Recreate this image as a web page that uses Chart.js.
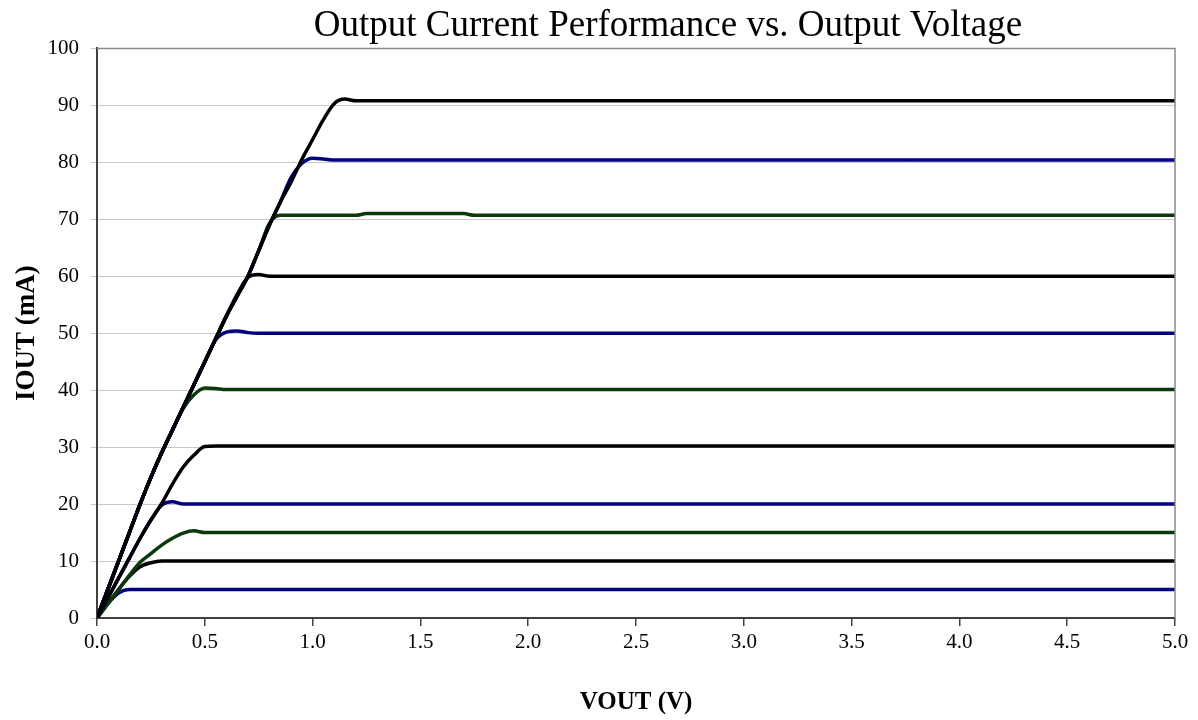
<!DOCTYPE html>
<html>
<head>
<meta charset="utf-8">
<script src="https://cdn.jsdelivr.net/npm/chart.js@4"></script>
<style>
  html, body { margin: 0; padding: 0; background: #fff; }
  #wrap { width: 1198px; height: 720px; }
</style>
</head>
<body>
<div id="wrap"><canvas id="myChart" width="1198" height="720"></canvas></div>
<script>
// output voltage (V)
const vout = [0, 0.05, 0.1, 0.15, 0.2, 0.25, 0.3, 0.35, 0.4, 0.45, 0.5, 0.55, 0.6, 0.65, 0.7, 0.75, 0.8, 0.85, 0.9, 0.95,
    1.0, 1.05, 1.1, 1.15, 1.2, 1.25, 1.5, 1.7, 1.75, 2.0, 2.5, 3.0, 3.5, 4.0, 4.5, 5.0];

// output current (mA) per setting
const i90 = [0, 5, 10, 15, 20, 24.7, 29, 33, 37, 41, 45, 49, 53, 56.5, 60, 64.5, 69, 73, 76.5, 80.5,
    84, 87.5, 90.3, 91.1, 90.8, 90.8, 90.8, 90.8, 90.8, 90.8, 90.8, 90.8, 90.8, 90.8, 90.8, 90.8];
const i80 = [0, 5, 10, 15, 20, 24.7, 29, 33, 37, 41, 45, 49, 53, 56.5, 60, 64.5, 69, 73, 77.3, 79.8,
    80.7, 80.6, 80.4, 80.4, 80.4, 80.4, 80.4, 80.4, 80.4, 80.4, 80.4, 80.4, 80.4, 80.4, 80.4, 80.4];
const i70 = [0, 5, 10, 15, 20, 24.7, 29, 33, 37, 41, 45, 49, 53, 56.5, 60, 64.5, 69.3, 70.7, 70.7, 70.7,
    70.7, 70.7, 70.7, 70.7, 70.7, 71, 71, 71, 70.7, 70.7, 70.7, 70.7, 70.7, 70.7, 70.7, 70.7];
const i60 = [0, 5, 10, 15, 20, 24.7, 29, 33, 37, 41, 45, 49, 53, 56.8, 59.8, 60.3, 60, 60, 60, 60,
    60, 60, 60, 60, 60, 60, 60, 60, 60, 60, 60, 60, 60, 60, 60, 60];
const i50 = [0, 5, 10, 15, 20, 24.7, 29, 33, 37, 41, 45, 48.8, 50.2, 50.4, 50.1, 50, 50, 50, 50, 50,
    50, 50, 50, 50, 50, 50, 50, 50, 50, 50, 50, 50, 50, 50, 50, 50];
const i40 = [0, 5, 10, 15, 20, 24.7, 29, 33, 36.8, 39.2, 40.4, 40.3, 40.1, 40.1, 40.1, 40.1, 40.1, 40.1, 40.1, 40.1,
    40.1, 40.1, 40.1, 40.1, 40.1, 40.1, 40.1, 40.1, 40.1, 40.1, 40.1, 40.1, 40.1, 40.1, 40.1, 40.1];
const i30 = [0, 3.5, 7, 10.5, 14, 17.2, 20.1, 23.5, 26.5, 28.6, 30.1, 30.2, 30.2, 30.2, 30.2, 30.2, 30.2, 30.2, 30.2, 30.2,
    30.2, 30.2, 30.2, 30.2, 30.2, 30.2, 30.2, 30.2, 30.2, 30.2, 30.2, 30.2, 30.2, 30.2, 30.2, 30.2];
const i20 = [0, 3.5, 7, 10.5, 14, 17.2, 19.8, 20.4, 20, 20, 20, 20, 20, 20, 20, 20, 20, 20, 20, 20,
    20, 20, 20, 20, 20, 20, 20, 20, 20, 20, 20, 20, 20, 20, 20, 20];
const i15 = [0, 2.5, 5, 7.5, 9.8, 11.3, 12.8, 14, 14.9, 15.3, 15, 15, 15, 15, 15, 15, 15, 15, 15, 15,
    15, 15, 15, 15, 15, 15, 15, 15, 15, 15, 15, 15, 15, 15, 15, 15];
const i10 = [0, 2.5, 5, 7.3, 9, 9.7, 10, 10, 10, 10, 10, 10, 10, 10, 10, 10, 10, 10, 10, 10,
    10, 10, 10, 10, 10, 10, 10, 10, 10, 10, 10, 10, 10, 10, 10, 10];
const i5 = [0, 2.5, 4.4, 5, 5, 5, 5, 5, 5, 5, 5, 5, 5, 5, 5, 5, 5, 5, 5, 5,
    5, 5, 5, 5, 5, 5, 5, 5, 5, 5, 5, 5, 5, 5, 5, 5];

const xTicks = [0, 0.5, 1.0, 1.5, 2.0, 2.5, 3.0, 3.5, 4.0, 4.5, 5.0];

const BLACK = "#000000";
const BLUE = "#000080";
const GREEN = "#0a3a0a";

// first in the list is drawn on top
const series = [
    { label: "90 mA", data: i90, color: BLACK },
    { label: "80 mA", data: i80, color: BLUE },
    { label: "70 mA", data: i70, color: GREEN },
    { label: "60 mA", data: i60, color: BLACK },
    { label: "50 mA", data: i50, color: BLUE },
    { label: "40 mA", data: i40, color: GREEN },
    { label: "30 mA", data: i30, color: BLACK },
    { label: "20 mA", data: i20, color: BLUE },
    { label: "15 mA", data: i15, color: GREEN },
    { label: "10 mA", data: i10, color: BLACK },
    { label: "5 mA", data: i5, color: BLUE },
];

// grey box on the top and right of the plot, title nudged right like the original
const frame = {
    id: "frame",
    afterLayout(chart) {
        if (chart.titleBlock) {
            chart.titleBlock.left += 32;
            chart.titleBlock.right += 32;
        }
    },
    afterDatasetsDraw(chart) {
        const { ctx, chartArea: a } = chart;
        ctx.save();
        ctx.strokeStyle = "#8a8a8a";
        ctx.lineWidth = 1.5;
        ctx.beginPath();
        ctx.moveTo(a.left, a.top);
        ctx.lineTo(a.right, a.top);
        ctx.lineTo(a.right, a.bottom);
        ctx.stroke();
        ctx.restore();
    },
};

const SERIF = "'Liberation Serif', 'Times New Roman', serif";

const ctx = document.getElementById("myChart").getContext("2d");
const myChart = new Chart(ctx, {
    type: "line",
    data: {
        datasets: series.map((s) => ({
            label: s.label,
            data: vout.map((v, i) => ({ x: v, y: s.data[i] })),
            borderColor: s.color,
            backgroundColor: s.color,
            borderWidth: 3.5,
            pointRadius: 0,
            cubicInterpolationMode: "monotone",
            fill: false,
        })),
    },
    options: {
        responsive: false,
        animation: false,
        layout: { padding: { left: 0, right: 23, top: 0, bottom: 0 } },
        plugins: {
            legend: { display: false },
            tooltip: { enabled: false },
            title: {
                display: true,
                text: "Output Current Performance vs. Output Voltage",
                fullSize: false,
                color: "#000",
                font: { family: SERIF, size: 37, weight: "normal", lineHeight: 1.2 },
                padding: { top: 4, bottom: 0 },
            },
        },
        scales: {
            x: {
                type: "linear",
                min: 0,
                max: 5,
                afterFit(scale) { scale.height = 102; },
                afterBuildTicks(scale) { scale.ticks = xTicks.map((v) => ({ value: v })); },
                ticks: {
                    color: "#000",
                    font: { family: SERIF, size: 21 },
                    padding: 4,
                    maxRotation: 0,
                    callback: (v) => Number(v).toFixed(1),
                },
                grid: { drawOnChartArea: false, drawTicks: true, tickLength: 8, color: "#404040", lineWidth: 1.5 },
                border: { display: true, color: "#404040", width: 2 },
                title: {
                    display: true,
                    text: "VOUT (V)",
                    color: "#000",
                    font: { family: SERIF, size: 25, weight: "bold" },
                    padding: { top: 0, bottom: 2 },
                },
            },
            y: {
                min: 0,
                max: 100,
                afterFit(scale) { scale.width = 97; },
                ticks: {
                    stepSize: 10,
                    color: "#000",
                    font: { family: SERIF, size: 21 },
                    padding: 12,
                },
                grid: { color: "#c8c8c8", lineWidth: 1, tickLength: 6 },
                border: { display: true, color: "#404040", width: 2 },
                title: {
                    display: true,
                    text: "IOUT (mA)",
                    color: "#000",
                    font: { family: SERIF, size: 27, weight: "bold" },
                    padding: { top: 11, bottom: 0 },
                },
            },
        },
    },
    plugins: [frame],
});
</script>
</body>
</html>
